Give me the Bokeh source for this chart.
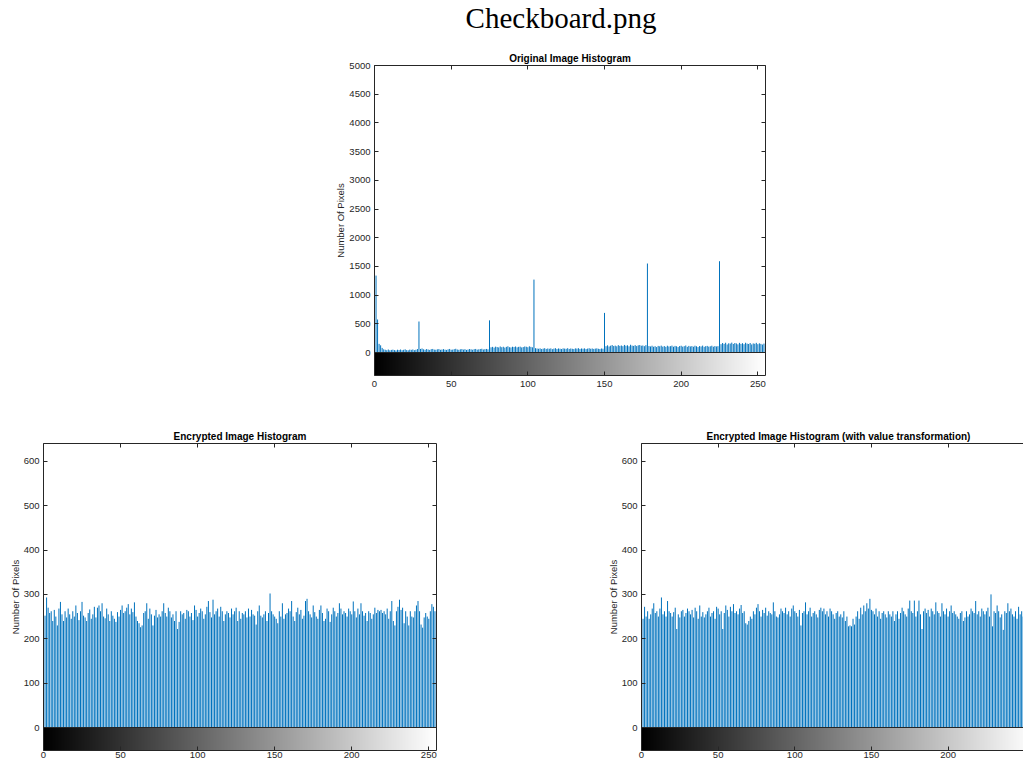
import numpy as np
from bokeh.plotting import figure
from bokeh.models import (LinearAxis, FixedTicker, Range1d, Span, Div, Spacer,
                          ColumnDataSource, CustomJSTickFormatter)
from bokeh.layouts import column, row
from bokeh.embed import file_html
from bokeh.resources import INLINE

# ---------------- data ----------------
main_title = "Checkboard.png"
titles = ["Original Image Histogram",
          "Encrypted Image Histogram",
          "Encrypted Image Histogram (with value transformation)"]
y_label = "Number Of Pixels"
x_ticks = [0, 50, 100, 150, 200, 250]
y_ticks_orig = [0, 500, 1000, 1500, 2000, 2500, 3000, 3500, 4000, 4500, 5000]
y_ticks_enc = [0, 100, 200, 300, 400, 500, 600]
bins = list(range(256))

orig_counts = [
    5600, 1340, 575, 150, 125, 80, 55, 48, 40, 52, 38, 45, 50, 42, 36, 48,
    44, 52, 40, 47, 55, 42, 38, 50, 46, 53, 41, 48, 60, 540, 62, 70,
    55, 48, 60, 52, 45, 58, 62, 50, 48, 55, 60, 47, 52, 58, 50, 45,
    55, 62, 48, 50, 58, 65, 52, 47, 55, 60, 50, 58, 45, 52, 60, 55,
    48, 58, 62, 50, 55, 60, 65, 52, 58, 62, 55, 560, 90, 98, 85, 102,
    95, 88, 105, 92, 100, 85, 98, 108, 92, 88, 100, 95, 105, 90, 98, 102,
    88, 95, 105, 100, 92, 108, 98, 90, 1270, 75, 70, 65, 72, 60, 68, 75,
    62, 70, 65, 72, 58, 68, 75, 62, 70, 66, 60, 72, 68, 64, 75, 62,
    70, 65, 60, 72, 68, 75, 62, 70, 66, 72, 60, 68, 74, 65, 70, 62,
    68, 72, 65, 60, 70, 66, 690, 110, 125, 105, 118, 130, 112, 120, 108, 128,
    115, 122, 110, 132, 118, 125, 108, 135, 120, 115, 128, 112, 125, 130, 118, 122,
    110, 128, 1550, 112, 105, 118, 100, 110, 95, 115, 108, 120, 102, 112, 98, 118,
    105, 110, 120, 100, 115, 108, 95, 112, 118, 102, 110, 122, 98, 115, 105, 112,
    100, 118, 108, 95, 112, 105, 120, 98, 110, 115, 102, 108, 118, 100, 112, 105,
    110, 1590, 145, 165, 150, 170, 140, 160, 155, 172, 148, 165, 158, 142, 168, 150,
    162, 145, 170, 155, 148, 165, 140, 158, 152, 168, 145, 160, 150, 138, 155, 3350,
]

enc_counts = [
    178, 252, 293, 270, 258, 262, 240, 265, 250, 230, 268, 283, 255, 240, 262, 248,
    268, 255, 245, 262, 250, 275, 258, 242, 262, 283, 252, 248, 240, 258, 266, 245,
    255, 272, 248, 270, 275, 262, 280, 250, 246, 268, 255, 240, 262, 252, 245, 238,
    260, 250, 265, 275, 258, 262, 270, 278, 255, 268, 260, 282, 250, 240, 235, 226,
    230, 258, 262, 280, 245, 268, 255, 230, 252, 265, 248, 255, 250, 262, 280, 258,
    250, 270, 262, 248, 255, 240, 262, 222, 238, 262, 255, 258, 245, 265, 262, 250,
    258, 242, 275, 265, 250, 258, 268, 262, 245, 255, 272, 285, 260, 248, 288, 255,
    262, 268, 250, 272, 262, 240, 255, 262, 258, 248, 268, 255, 262, 270, 240, 262,
    245, 258, 255, 262, 248, 268, 250, 265, 255, 252, 232, 262, 275, 252, 248, 255,
    262, 240, 258, 302, 262, 255, 250, 245, 235, 262, 250, 280, 245, 255, 258, 268,
    262, 285, 250, 240, 260, 270, 255, 265, 245, 252, 285, 290, 262, 255, 248, 275,
    260, 250, 245, 265, 275, 258, 240, 245, 268, 262, 238, 255, 270, 262, 250, 258,
    280, 268, 255, 262, 258, 250, 268, 262, 255, 284, 262, 248, 268, 255, 280, 262,
    252, 258, 240, 262, 258, 245, 255, 270, 258, 265, 262, 265, 258, 262, 255, 268,
    245, 262, 285, 240, 230, 262, 272, 288, 265, 270, 235, 262, 250, 230, 262, 250,
    248, 262, 275, 285, 262, 232, 225, 248, 258, 250, 245, 262, 278, 272, 262, 235,
]

enc_tf_counts = [
    190, 245, 272, 250, 262, 245, 255, 268, 280, 258, 262, 250, 268, 293, 255, 262,
    250, 285, 262, 258, 250, 260, 270, 222, 255, 248, 262, 265, 250, 258, 268, 262,
    255, 265, 248, 270, 262, 245, 275, 250, 260, 248, 255, 262, 270, 250, 258, 262,
    245, 272, 268, 255, 262, 222, 258, 275, 265, 250, 272, 262, 278, 258, 262, 255,
    268, 276, 258, 262, 235, 232, 240, 250, 245, 262, 255, 270, 278, 262, 250, 265,
    258, 270, 252, 262, 258, 255, 282, 262, 250, 248, 255, 268, 262, 258, 270, 255,
    262, 250, 268, 275, 262, 258, 250, 265, 230, 258, 262, 282, 255, 262, 270, 250,
    258, 262, 255, 248, 265, 270, 262, 268, 255, 262, 250, 268, 262, 255, 245, 258,
    262, 250, 255, 248, 262, 240, 250, 228, 230, 228, 245, 232, 250, 262, 245, 270,
    255, 275, 262, 280, 268, 290, 265, 262, 255, 268, 250, 262, 245, 258, 262, 255,
    248, 262, 255, 250, 262, 240, 255, 262, 245, 258, 270, 262, 255, 250, 268, 286,
    262, 258, 286, 250, 262, 286, 255, 222, 262, 268, 258, 265, 250, 268, 262, 255,
    282, 262, 258, 250, 280, 262, 255, 268, 250, 262, 275, 258, 262, 255, 250, 245,
    258, 262, 240, 248, 262, 250, 255, 268, 262, 258, 285, 255, 262, 250, 268, 262,
    255, 262, 270, 250, 300, 228, 262, 258, 275, 262, 248, 255, 220, 262, 258, 280,
    262, 268, 255, 250, 262, 245, 272, 255, 262, 250, 268, 258, 262, 248, 255, 262,
]

# ---------------- styling ----------------
FONT = "Liberation Sans"
BLUE = "#0072BD"
AX = "#262626"

# grey gradient for the colour bar under each histogram
grad = np.zeros((1, 256), dtype=np.uint32)
gv = grad.view(dtype=np.uint8).reshape((1, 256, 4))
g = np.arange(256, dtype=np.uint8)
gv[0, :, 0] = g
gv[0, :, 1] = g
gv[0, :, 2] = g
gv[0, :, 3] = 255


def style_axis(ax, ticks, labels=True):
    ax.ticker = FixedTicker(ticks=ticks)
    ax.major_tick_in = 4
    ax.major_tick_out = 0
    ax.minor_tick_line_color = None
    ax.axis_line_color = AX
    ax.major_tick_line_color = AX
    ax.major_label_text_font = FONT
    ax.major_label_text_font_size = "9.5px"
    ax.major_label_text_color = AX
    if not labels:
        ax.formatter = CustomJSTickFormatter(code="return ''")
        ax.major_label_text_font_size = "0px"
        ax.major_label_standoff = 0


def make_hist(counts, title, x_end, y_top, y_ticks, frame_w, frame_h, cb_px,
              bl, br, bt, bb, right_axis=True, label_standoff=5,
              title_align="center", title_offset=0):
    y_start = -y_top * cb_px / (frame_h - cb_px)
    p = figure(frame_width=frame_w, frame_height=frame_h,
               x_range=Range1d(0, x_end), y_range=Range1d(y_start, y_top),
               output_backend="svg", toolbar_location=None,
               x_axis_location=None, y_axis_location=None,
               min_border_left=bl, min_border_right=br,
               min_border_top=bt, min_border_bottom=bb)
    p.outline_line_color = None
    p.background_fill_color = "white"
    p.border_fill_color = "white"
    p.grid.grid_line_color = None

    p.title.text = title
    p.title.text_font = FONT
    p.title.text_font_size = "10px"
    p.title.text_font_style = "bold"
    p.title.text_color = "#000000"
    p.title.align = title_align
    p.title.offset = title_offset
    p.title.standoff = 3

    below = LinearAxis()
    style_axis(below, x_ticks)
    below.major_label_standoff = label_standoff
    p.add_layout(below, "below")

    above = LinearAxis()
    style_axis(above, x_ticks, labels=False)
    p.add_layout(above, "above")

    left = LinearAxis(axis_label=y_label)
    style_axis(left, y_ticks)
    left.major_label_standoff = 4
    left.axis_label_standoff = 0
    left.axis_label_text_font = FONT
    left.axis_label_text_font_size = "9.5px"
    left.axis_label_text_font_style = "normal"
    left.axis_label_text_color = AX
    p.add_layout(left, "left")

    if right_axis:
        right = LinearAxis()
        style_axis(right, y_ticks, labels=False)
        p.add_layout(right, "right")

    p.image_rgba(image=[grad], x=0, y=y_start, dw=255, dh=-y_start)

    src = ColumnDataSource(dict(x=bins, top=counts))
    p.segment(x0="x", y0=0, x1="x", y1="top", source=src,
              line_color=BLUE, line_width=1)
    p.add_layout(Span(location=0, dimension="width", line_color=AX, line_width=1))
    return p


# page layout
p1 = make_hist(orig_counts, titles[0], 255, 5000, y_ticks_orig,
               frame_w=391, frame_h=310, cb_px=23, bl=374, br=18, bt=28, bb=38,
               label_standoff=5)
p2 = make_hist(enc_counts, titles[1], 255, 640, y_ticks_enc,
               frame_w=393, frame_h=307, cb_px=23, bl=43, br=164, bt=30, bb=13,
               label_standoff=1)
p3 = make_hist(enc_tf_counts, titles[2], 249.2, 640, y_ticks_enc,
               frame_w=382, frame_h=307, cb_px=23, bl=41, br=0, bt=30, bb=13,
               right_axis=False, label_standoff=1,
               title_align="left", title_offset=65)

head = Div(text=main_title, width=300, height=27,
           styles={"font-family": "'Liberation Serif', 'Times New Roman', serif",
                   "font-size": "29px", "text-align": "center",
                   "line-height": "27px", "color": "#000000",
                   "overflow": "visible"})

layout = column(
    row(Spacer(width=406, height=27), head),
    p1,
    row(p2, p3),
)

open("out.html", "w").write(file_html(layout, INLINE))
